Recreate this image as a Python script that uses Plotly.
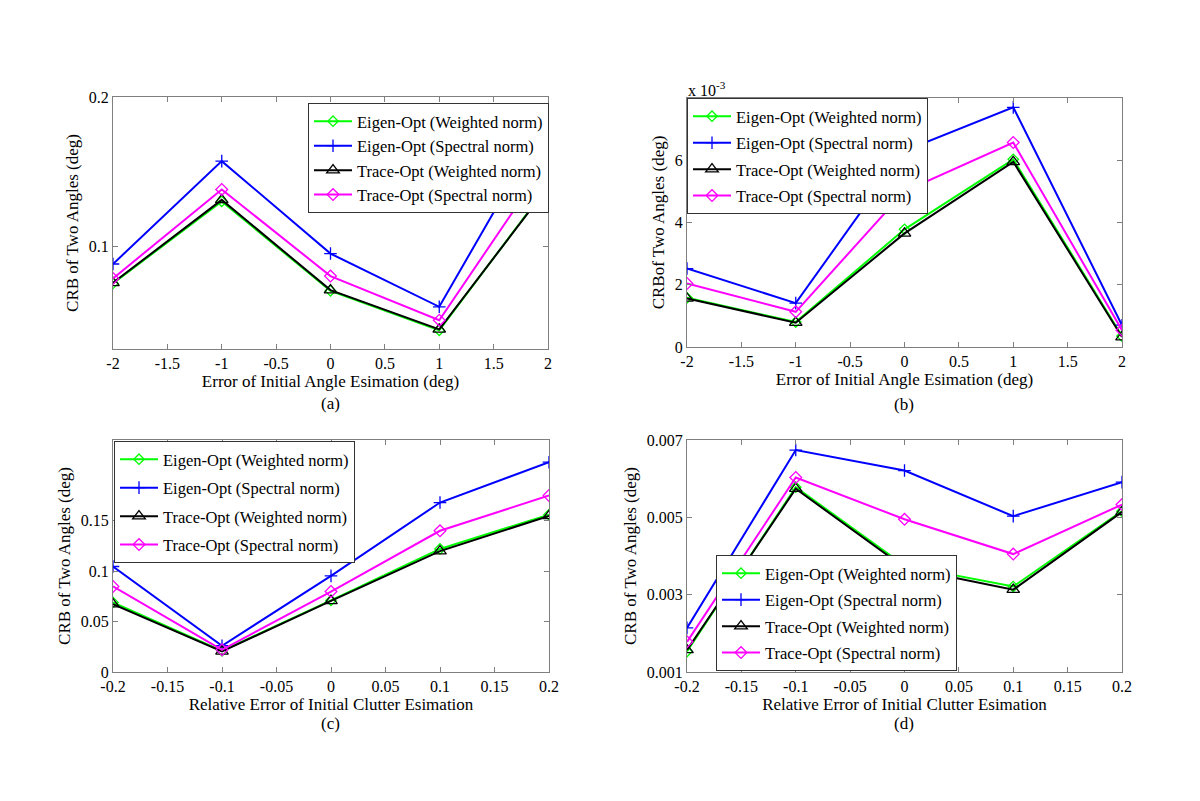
import plotly.graph_objects as go

# ---------------- data ----------------
x_angle = [-2, -1, 0, 1, 2]
x_clutter = [-0.2, -0.1, 0, 0.1, 0.2]

series_names = ["Eigen-Opt (Weighted norm)", "Eigen-Opt (Spectral norm)",
                "Trace-Opt (Weighted norm)", "Trace-Opt (Spectral norm)"]

a_eigen_w = [0.0750, 0.1300, 0.0700, 0.0435, 0.1405]
a_eigen_s = [0.0880, 0.1570, 0.0950, 0.0593, 0.1860]
a_trace_w = [0.0754, 0.1310, 0.0705, 0.0442, 0.1398]
a_trace_s = [0.0783, 0.1380, 0.0799, 0.0503, 0.1577]

b_eigen_w = [1.58e-3, 0.80e-3, 3.78e-3, 6.03e-3, 0.35e-3]
b_eigen_s = [2.52e-3, 1.41e-3, 6.30e-3, 7.70e-3, 0.70e-3]
b_trace_w = [1.56e-3, 0.78e-3, 3.65e-3, 5.95e-3, 0.32e-3]
b_trace_s = [2.04e-3, 1.13e-3, 5.00e-3, 6.57e-3, 0.54e-3]

c_eigen_w = [0.0690, 0.0210, 0.0710, 0.1220, 0.1560]
c_eigen_s = [0.1046, 0.0260, 0.0953, 0.1680, 0.2080]
c_trace_w = [0.0673, 0.0204, 0.0706, 0.1198, 0.1548]
c_trace_s = [0.0848, 0.0220, 0.0798, 0.1400, 0.1750]

d_eigen_w = [0.00153, 0.00578, 0.00375, 0.00321, 0.00516]
d_eigen_s = [0.00214, 0.00674, 0.00621, 0.00503, 0.00591]
d_trace_w = [0.00157, 0.00574, 0.00370, 0.00313, 0.00514]
d_trace_s = [0.00178, 0.00603, 0.00495, 0.00405, 0.00533]

angle_ticks = [-2, -1.5, -1, -0.5, 0, 0.5, 1, 1.5, 2]
angle_ticktext = ["-2", "-1.5", "-1", "-0.5", "0", "0.5", "1", "1.5", "2"]
clutter_ticks = [-0.2, -0.15, -0.1, -0.05, 0, 0.05, 0.1, 0.15, 0.2]
clutter_ticktext = ["-0.2", "-0.15", "-0.1", "-0.05", "0", "0.05", "0.1", "0.15", "0.2"]

a_yticks = [0.1, 0.2]
a_yticktext = ["0.1", "0.2"]
b_yticks = [0, 0.002, 0.004, 0.006]
b_yticktext = ["0", "2", "4", "6"]
c_yticks = [0, 0.05, 0.1, 0.15]
c_yticktext = ["0", "0.05", "0.1", "0.15"]
d_yticks = [0.001, 0.003, 0.005, 0.007]
d_yticktext = ["0.001", "0.003", "0.005", "0.007"]

panel_labels = ["(a)", "(b)", "(c)", "(d)"]

# ---------------- styles ----------------
FONT = "Liberation Serif, Times New Roman, serif"
styles = [
    dict(color="#00ff00", symbol="diamond-open", size=8),
    dict(color="#0000ff", symbol="cross-thin-open", size=9),
    dict(color="#000000", symbol="triangle-up-open", size=11),
    dict(color="#ff00ff", symbol="diamond-open", size=9),
]

W, H = 1200, 801
OFF = 8  # page body margin offset of the rendered figure
def fx(x):
    return (x - OFF) / W
def fy(y):
    return (H - (y - OFF)) / H
def px(x0, x1):
    return [fx(x0), fx(x1)]
def py(ytop, ybot):
    return [fy(ybot), fy(ytop)]

fig = go.Figure()

panels = [
    dict(x=x_angle, ys=[a_eigen_w, a_eigen_s, a_trace_w, a_trace_s], ax="", leg="legend"),
    dict(x=x_angle, ys=[b_eigen_w, b_eigen_s, b_trace_w, b_trace_s], ax="2", leg="legend2"),
    dict(x=x_clutter, ys=[c_eigen_w, c_eigen_s, c_trace_w, c_trace_s], ax="3", leg="legend3"),
    dict(x=x_clutter, ys=[d_eigen_w, d_eigen_s, d_trace_w, d_trace_s], ax="4", leg="legend4"),
]

for pi, p in enumerate(panels):
    for si, (name, y, st) in enumerate(zip(series_names, p["ys"], styles)):
        fig.add_trace(go.Scatter(
            x=p["x"], y=y, name=name, mode="lines+markers",
            xaxis="x" + p["ax"], yaxis="y" + p["ax"], legend=p["leg"],
            legendgroup=f"p{pi}s{si}",
            line=dict(color=st["color"], width=2),
            marker=dict(symbol=st["symbol"], size=st["size"], color=st["color"],
                        line=dict(color=st["color"], width=1.3)),
        ))

axis_common = dict(showline=True, linecolor="#7f7f7f", linewidth=1, mirror="ticks",
                   ticks="inside", ticklen=5, tickcolor="#7f7f7f", showgrid=False,
                   zeroline=False, automargin=False,
                   tickfont=dict(family=FONT, size=16, color="black"),
                   title_font=dict(family=FONT, size=17, color="black"))

def xaxis(domain, anchor, ticks, ticktext, title, rng):
    return dict(axis_common, domain=domain, anchor=anchor, range=rng,
                tickmode="array", tickvals=ticks, ticktext=ticktext,
                title=dict(text=title, standoff=2))

def yaxis(domain, anchor, ticks, ticktext, title, rng):
    return dict(axis_common, domain=domain, anchor=anchor, range=rng,
                tickmode="array", tickvals=ticks, ticktext=ticktext,
                title=dict(text=title, standoff=5))

dom_a = (px(113, 548), py(97, 349))
dom_b = (px(687, 1122), py(98, 347))
dom_c = (px(113, 549), py(440, 672))
dom_d = (px(687, 1122), py(440, 672))

fig.update_layout(
    width=W, height=H,
    margin=dict(l=0, r=0, t=0, b=0, autoexpand=False),
    paper_bgcolor="white", plot_bgcolor="white",
    font=dict(family=FONT, size=16, color="black"),
    xaxis=xaxis(dom_a[0], "y", angle_ticks, angle_ticktext,
                "Error of Initial Angle Esimation (deg)", [-2, 2]),
    yaxis=yaxis(dom_a[1], "x", a_yticks, a_yticktext, "CRB of Two Angles (deg)", [0.031, 0.2]),
    xaxis2=xaxis(dom_b[0], "y2", angle_ticks, angle_ticktext,
                 "Error of Initial Angle Esimation (deg)", [-2, 2]),
    yaxis2=yaxis(dom_b[1], "x2", b_yticks, b_yticktext, "CRBof Two Angles (deg)", [0, 0.008]),
    xaxis3=xaxis(dom_c[0], "y3", clutter_ticks, clutter_ticktext,
                 "Relative Error of Initial Clutter Esimation", [-0.2, 0.2]),
    yaxis3=yaxis(dom_c[1], "x3", c_yticks, c_yticktext, "CRB of Two Angles (deg)", [0, 0.23]),
    xaxis4=xaxis(dom_d[0], "y4", clutter_ticks, clutter_ticktext,
                 "Relative Error of Initial Clutter Esimation", [-0.2, 0.2]),
    yaxis4=yaxis(dom_d[1], "x4", d_yticks, d_yticktext, "CRB of Two Angles (deg)", [0.001, 0.007]),
)

leg_common = dict(bgcolor="white", bordercolor="#333333", borderwidth=1, itemwidth=38,
                  font=dict(family=FONT, size=16.5, color="black"), traceorder="grouped")
fig.update_layout(
    legend=dict(leg_common, x=fx(549), y=fy(103), xanchor="right", yanchor="top",
                tracegroupgap=0),
    legend2=dict(leg_common, x=fx(687), y=fy(98), xanchor="left", yanchor="top",
                 tracegroupgap=2),
    legend3=dict(leg_common, x=fx(114), y=fy(441), xanchor="left", yanchor="top",
                 tracegroupgap=4),
    legend4=dict(leg_common, x=fx(716), y=fy(671), xanchor="left", yanchor="bottom",
                 tracegroupgap=2),
)

# panel labels
label_pos = [(330, 403), (904, 404), (330, 723), (904, 723)]
for lab, (lx, ly) in zip(panel_labels, label_pos):
    fig.add_annotation(text=lab, x=fx(lx), y=fy(ly), xref="paper", yref="paper",
                       showarrow=False, xanchor="center", yanchor="middle",
                       font=dict(family=FONT, size=17, color="black"))

# exponent label on panel (b)
fig.add_annotation(text="x 10<sup>-3</sup>", x=fx(686), y=fy(89), xref="paper", yref="paper",
                   showarrow=False, xanchor="left", yanchor="middle",
                   font=dict(family=FONT, size=16, color="black"))

fig.write_html("out.html")
